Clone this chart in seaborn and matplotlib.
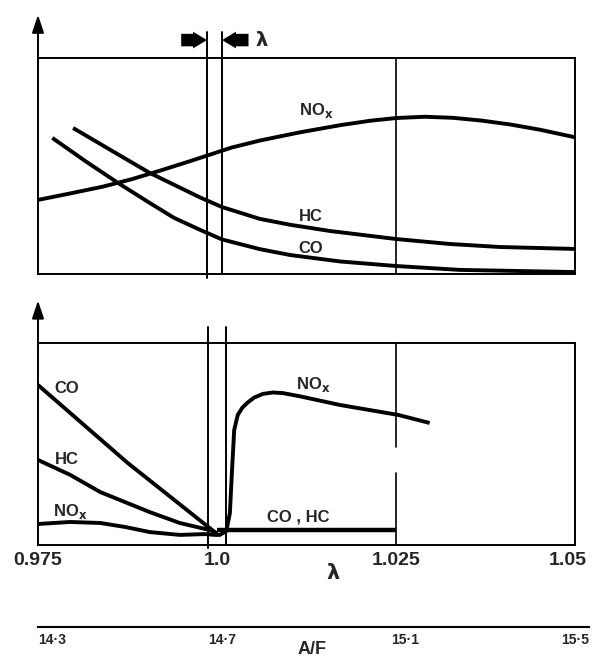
import matplotlib
matplotlib.use("Agg")
import matplotlib.pyplot as plt
import matplotlib.transforms as mtransforms
import seaborn as sns
import pandas as pd

# ------------------------------------------------------------
# data (lambda on x, relative level 0-100 on y)
# ------------------------------------------------------------
# upper panel: wide lambda window
top_nox_lam = [0.975, 0.9795, 0.9840, 0.9880, 0.9920, 0.9960, 0.9986, 1.0020, 1.0060,
               1.0116, 1.0172, 1.0215, 1.0250, 1.0290, 1.0330, 1.0370, 1.0410,
               1.0451, 1.0500]
top_nox_val = [34.3, 37.3, 40.4, 43.8, 47.8, 52.0, 54.8, 58.5, 61.8,
               65.6, 68.9, 71.0, 72.2, 72.8, 72.3, 71.0, 69.2,
               66.8, 63.3]

top_hc_lam = [0.9799, 0.9837, 0.9906, 0.9976, 1.0007, 1.0060, 1.0102, 1.0158,
              1.0250, 1.0325, 1.0395, 1.0500]
top_hc_val = [67.6, 60.2, 46.8, 35.5, 31.0, 25.5, 22.8, 19.9,
              16.2, 13.9, 12.5, 11.6]

top_co_lam = [0.9770, 0.9816, 0.9862, 0.9906, 0.9940, 0.9976, 1.0007, 1.0060,
              1.0102, 1.0172, 1.0250, 1.0339, 1.0500]
top_co_val = [63.0, 52.3, 42.1, 32.9, 26.0, 20.5, 16.0, 11.5,
              8.8, 5.8, 3.7, 1.9, 0.9]

# lower panel: after the three-way catalyst
bot_co_lam = [0.975, 0.9875, 1.0]
bot_co_val = [79.2, 40.7, 5.5]

bot_hc_lam = [0.975, 0.9795, 0.9837, 0.9906, 0.9948, 0.9990, 1.0]
bot_hc_val = [42.1, 34.7, 26.2, 16.3, 10.9, 7.4, 5.9]

bot_nox_lam = [0.975, 0.9795, 0.9837, 0.9872, 0.9906, 0.9948, 0.9983, 0.9997, 1.0004,
               1.0013, 1.0018, 1.0021, 1.0024, 1.0029, 1.0035, 1.0042, 1.0052,
               1.0064, 1.0078, 1.0092, 1.0116, 1.0172, 1.0253, 1.0297]
bot_nox_val = [10.4, 11.4, 10.9, 8.9, 6.4, 5.0, 5.4, 5.0, 5.0,
               6.9, 15.8, 37.1, 56.9, 64.4, 67.8, 70.3, 73.0,
               74.8, 75.5, 75.2, 73.6, 69.3, 64.4, 60.4]

bot_cohc_lam = [1.0, 1.025]
bot_cohc_val = [7.2, 7.2]

lam_ticks = [0.975, 1.0, 1.025, 1.05]
lam_ticklabels = ["0.975", "1.0", "1.025", "1.05"]
af_ticks = [14.3, 14.7, 15.1, 15.5]
af_ticklabels = ["14·3", "14·7", "15·1", "15·5"]

# window edges (lambda) drawn as thin verticals
top_window = [0.9986, 1.0007]
bot_window = [0.9987, 1.0013]

# ------------------------------------------------------------
sns.set_theme(style="white")
plt.rcParams['font.family'] = ['Liberation Sans', 'DejaVu Sans']
plt.rcParams['mathtext.default'] = 'bf'

fig = plt.figure(figsize=(5.92, 6.59), dpi=100)
ax_top = fig.add_axes([38/592, 1 - 274/659, 537/592, 216/659])
ax_bot = fig.add_axes([38/592, 1 - 545/659, 537/592, 202/659])
ax_af = fig.add_axes([38/592, 32/659, 551/592, 0.001])

CURVE_LW = 2.8
FRAME_LW = 1.4

for ax in (ax_top, ax_bot):
    ax.set_xlim(0.975, 1.05)
    ax.set_ylim(0, 100)
    ax.set_yticks([])
    for sp in ax.spines.values():
        sp.set_color('black')
        sp.set_linewidth(FRAME_LW)


def curve(ax, lam, val, lw=CURVE_LW):
    df = pd.DataFrame({'lam': lam, 'val': val})
    sns.lineplot(data=df, x='lam', y='val', ax=ax, color='black', lw=lw,
                 sort=False, estimator=None, solid_capstyle='butt',
                 solid_joinstyle='round')


def yaxis_arrow(ax, top):
    ax.annotate("", xy=(0.975, top), xytext=(0.975, 99),
                arrowprops=dict(arrowstyle='-|>,head_length=0.9,head_width=0.3',
                                lw=FRAME_LW, color='black', shrinkA=0, shrinkB=0),
                annotation_clip=False)


# ---------------- upper panel ----------------
curve(ax_top, top_nox_lam, top_nox_val)
curve(ax_top, top_hc_lam, top_hc_val)
curve(ax_top, top_co_lam, top_co_val)

ax_top.plot([top_window[0]] * 2, [-1.9, 112], color='black', lw=1.4, clip_on=False)
ax_top.plot([top_window[1]] * 2, [0, 112], color='black', lw=1.4, clip_on=False)
ax_top.axvline(1.025, color='black', lw=1.2)

# window arrows pointing at the two verticals, then the lambda marker
arrow_style = 'simple,head_length=1.0,head_width=1.2,tail_width=0.9'
ax_top.annotate("", xy=(top_window[0], 108.3), xytext=(0.9950, 108.3),
                arrowprops=dict(arrowstyle=arrow_style, mutation_scale=10,
                                color='black', lw=0, shrinkA=0, shrinkB=0),
                annotation_clip=False)
ax_top.annotate("", xy=(top_window[1], 108.3), xytext=(1.0044, 108.3),
                arrowprops=dict(arrowstyle=arrow_style, mutation_scale=10,
                                color='black', lw=0, shrinkA=0, shrinkB=0),
                annotation_clip=False)
ax_top.text(1.0063, 108.3, "λ", fontsize=14, fontweight='bold', ha='center', va='center',
            family=['DejaVu Sans'])

ax_top.text(1.0138, 75.5, "NO$_x$", fontsize=12, fontweight='bold', ha='center', va='center')
ax_top.text(1.0131, 26.4, "HC", fontsize=12, fontweight='bold', ha='center', va='center')
ax_top.text(1.0131, 12.0, "CO", fontsize=12, fontweight='bold', ha='center', va='center')
ax_top.set_xticks([])
ax_top.set_xlabel("")
ax_top.set_ylabel("")
yaxis_arrow(ax_top, 120)

# ---------------- lower panel ----------------
curve(ax_bot, bot_co_lam, bot_co_val)
curve(ax_bot, bot_hc_lam, bot_hc_val)
curve(ax_bot, bot_nox_lam, bot_nox_val)
curve(ax_bot, bot_cohc_lam, bot_cohc_val, lw=3.2)

ax_bot.plot([bot_window[0]] * 2, [-1.5, 108], color='black', lw=1.4, clip_on=False)
ax_bot.plot([bot_window[1]] * 2, [0, 108], color='black', lw=1.4, clip_on=False)
ax_bot.plot([1.025, 1.025], [0, 35.6], color='black', lw=1.2)
ax_bot.plot([1.025, 1.025], [48.5, 100], color='black', lw=1.2)

ax_bot.text(0.9790, 77.7, "CO", fontsize=12, fontweight='bold', ha='center', va='center')
ax_bot.text(0.9790, 42.1, "HC", fontsize=12, fontweight='bold', ha='center', va='center')
ax_bot.text(0.9795, 16.8, "NO$_x$", fontsize=12, fontweight='bold', ha='center', va='center')
ax_bot.text(1.0134, 79.7, "NO$_x$", fontsize=12, fontweight='bold', ha='center', va='center')
ax_bot.text(1.0113, 13.9, "CO , HC", fontsize=12, fontweight='bold', ha='center', va='center')

ax_bot.set_xticks(lam_ticks)
ax_bot.set_xticklabels(lam_ticklabels, fontsize=14, fontweight='bold')
ax_bot.tick_params(axis='x', length=0, pad=5)
last = ax_bot.get_xticklabels()[-1]
last.set_transform(last.get_transform() +
                   mtransforms.ScaledTranslation(-7/100, 0, fig.dpi_scale_trans))
ax_bot.set_xlabel("")
ax_bot.set_ylabel("")
ax_bot.text(0.549, -0.139, "λ", transform=ax_bot.transAxes, fontsize=15,
            fontweight='bold', ha='center', va='center', family=['DejaVu Sans'])
yaxis_arrow(ax_bot, 121)

# ---------------- A/F scale ----------------
ax_af.set_xlim(14.3, 15.5)
ax_af.set_yticks([])
for side in ('top', 'left', 'right'):
    ax_af.spines[side].set_visible(False)
ax_af.spines['bottom'].set_linewidth(1.5)
ax_af.spines['bottom'].set_color('black')
ax_af.set_xticks(af_ticks)
ax_af.set_xticklabels(af_ticklabels, fontsize=10, fontweight='bold')
ax_af.tick_params(axis='x', direction='in', length=4, width=1.2, pad=4, color='black')
labels = ax_af.get_xticklabels()
labels[0].set_ha('left')
labels[-1].set_ha('right')
ax_af.annotate("A/F", xy=(0.497, 0), xycoords='axes fraction', xytext=(0, -16.5),
               textcoords='offset points', ha='center', va='center',
               fontsize=13, fontweight='bold')
ax_af.set_xlabel("")
ax_af.patch.set_visible(False)

fig.savefig("out.png", dpi=100, facecolor='white')
